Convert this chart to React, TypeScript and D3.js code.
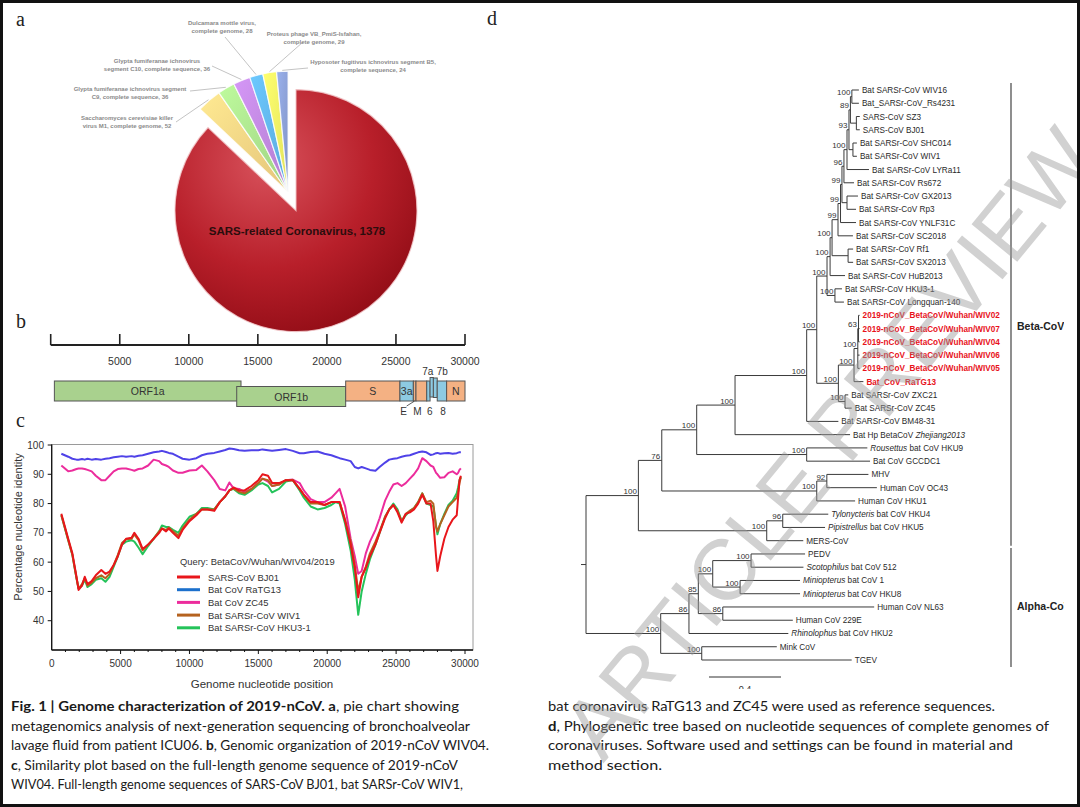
import React from "react";
import * as d3 from "d3";

const W = 1080;
const H = 807;

// ================= Panel a : metagenomics pie =================
const pieLabels = [
  "SARS-related Coronavirus, 1378",
  "Saccharomyces cerevisiae killer|virus M1, complete genome, 52",
  "Glypta fumiferanae ichnovirus segment|C9, complete sequence, 36",
  "Glypta fumiferanae ichnovirus|segment C10, complete sequence, 36",
  "Dulcamara mottle virus,|complete genome, 28",
  "Proteus phage VB_PmiS-Isfahan,|complete genome, 29",
  "Hyposoter fugitivus ichnovirus segment B5,|complete sequence, 24",
];
const pieValues = [1378, 52, 36, 36, 28, 29, 24];
const pieColors = ["#b71c26", "#e4c47a", "#9fd283", "#b27ecf", "#5aa8dc", "#e2e35c", "#8194c6"];

// ================= Panel b : genome organisation =================
const genomeTicks = [0, 5000, 10000, 15000, 20000, 25000, 30000];
const geneNames = ["ORF1a", "ORF1b", "S", "3a", "E", "M", "6", "7a", "7b", "8", "N"];
const geneStart = [266, 13470, 21360, 25290, 26260, 26450, 27230, 27470, 27710, 27990, 28670];
const geneEnd = [13780, 21360, 25290, 26260, 26450, 27230, 27470, 27710, 27990, 28670, 30000];
const geneKind = ["orf", "orf", "str", "acc", "str", "str", "acc", "acc", "acc", "acc", "str"];
const geneKindColor: Record<string, string> = { orf: "#a9d18e", str: "#f4b183", acc: "#8dcae2" };

// ================= Panel c : similarity plot =================
const simPositions = [
  700, 1200, 1500, 1800, 1950, 2200, 2400, 2600, 2900, 3200,
  3600, 3900, 4200, 4500, 4800, 5100, 5400, 5800, 6000, 6300,
  6600, 7000, 7400, 7800, 8000, 8300, 8500, 8800, 9200, 9500,
  10000, 10500, 10900, 11300, 11800, 12200, 12600, 12900, 13200, 13600,
  14000, 14500, 15000, 15300, 15700, 16000, 16500, 17000, 17500, 18000,
  18300, 18800, 19300, 19800, 20300, 20600, 20900, 21300, 21700, 22000,
  22250, 22500, 22800, 23100, 23500, 23800, 24200, 24500, 24800, 25100,
  25400, 25700, 26000, 26300, 26600, 26900, 27200, 27500, 27700, 27900,
  28000, 28200, 28500, 28800, 29100, 29400, 29500, 29600, 29700,
];
const simBJ01 = [
  76.5, 68, 63, 55, 50.5, 52, 55, 52.5, 53.5, 55.5,
  57.3, 56, 56.8, 59, 62, 66, 68, 68.3, 70, 68,
  64.5, 66, 68, 70, 71.5, 70.5, 71.5, 70, 68.2, 71,
  74, 76, 78, 78, 77.5, 80.5, 82.5, 84.5, 85.5, 84.5,
  84.5, 86, 88, 90, 89.5, 87, 87, 88, 88, 85,
  83, 80.5, 80.5, 79.5, 80.5, 80.5, 80.5, 74, 66, 58,
  48, 55, 58, 62, 66, 70, 75, 78, 79.5, 77,
  73.5, 76.5, 77, 78, 80, 83, 80, 80, 74, 62,
  57, 62, 68, 72, 74.5, 76, 82, 88, 89.5,
];
const simRaTG13 = [
  97, 96, 95.3, 95, 95, 95.2, 95, 95.3, 95, 95.2,
  95, 95.3, 95.5, 95.8, 96, 96.2, 96, 96.2, 96, 96.3,
  96.5, 97, 97.5, 97.8, 98, 97.6, 97.3, 97, 96, 95.3,
  95, 95.5, 96.5, 97, 97.3, 97.8, 98.3, 98.8, 98.6, 98.2,
  98, 98.2, 98.2, 98.5, 98.2, 98, 98.3, 98.6, 98, 97.2,
  97.2, 97.6, 97.8, 97, 96.5, 96, 95.5, 95, 94.5, 92.5,
  92, 92.5, 92, 91.5, 91.2, 92.5, 94, 95, 95.3, 95.5,
  96, 96.3, 96.5, 97, 97.5, 97.8, 97.5, 96.6, 96.8, 97.2,
  97.3, 97, 97.2, 97.3, 97, 97.2, 97.4, 97.5, 97.5,
];
const simZC45 = [
  93, 91, 91.3, 91.8, 92, 92, 91.8, 91.5, 91, 89.5,
  88, 88, 89.5, 91, 91.8, 92, 92, 91.5, 91.2, 91.8,
  92, 93, 95, 94.5, 93.5, 93, 92.5, 91.3, 90.5, 90.5,
  91.3, 91.5, 93, 91, 88, 85, 84.5, 87.2, 85.2, 85,
  84, 85, 87, 88.5, 87.5, 86, 86.5, 88, 88.2, 87,
  84.5, 81.5, 80.5, 80.5, 82, 83.5, 85, 79, 68, 62,
  56, 57, 63, 67, 71, 75, 81, 84, 86.5, 87,
  86, 87, 88.5, 90, 92, 95.5, 94.5, 93, 92.5, 90.5,
  90, 88.8, 89, 90.5, 91, 90, 90.5, 91.5, 92,
];
const simWIV1 = [
  76, 67.5, 62.5, 54.5, 51, 52.5, 54.5, 52, 53, 54.5,
  55.5, 54.5, 56, 59, 62.5, 66.5, 67.8, 68, 69.5, 67.5,
  64, 66, 68, 70.5, 71.5, 71, 71.8, 70.5, 69, 71.5,
  74.5, 76.5, 78, 78, 78, 80.5, 82.5, 84.5, 85.2, 84,
  83.5, 85, 87, 88.5, 88, 86, 86.5, 88, 88, 85,
  83, 80, 80, 79.5, 80.5, 80.5, 80.5, 74.5, 67, 59,
  50, 55, 58.5, 63, 67, 70.5, 75.5, 78, 79.5, 77.5,
  74, 76.5, 77.5, 78.5, 80.5, 83.5, 80.5, 81, 80, 72,
  70.5, 73, 76, 79, 80.5, 82, 84, 87, 89,
];
const simHKU3 = [
  76, 67.5, 62.5, 54.5, 51, 52, 54, 51.5, 52.5, 54,
  54.5, 53.3, 55, 58.5, 62, 66, 67, 67.5, 67, 65,
  62.7, 65.5, 68, 70.5, 72.5, 72, 72, 71, 70, 72.5,
  75.5, 76.5, 78.5, 78.5, 78, 80.5, 82.5, 84.5, 85, 83.5,
  83, 84.5, 86.5, 87, 86, 83.8, 85, 87.5, 88, 84.5,
  82, 79, 78, 78.5, 79.5, 80.5, 80, 73, 64, 54,
  42, 50, 56, 61, 66, 70, 75.5, 78, 80, 78,
  74, 76, 77.5, 78.5, 80.5, 83.5, 80, 79.5, 79, 72.5,
  69.5, 73, 76.5, 79.5, 81, 83.5, 85.5, 88, 89,
];
const simNames = ["SARS-CoV BJ01", "Bat CoV RaTG13", "Bat CoV ZC45", "Bat SARSr-CoV WIV1", "Bat SARSr-CoV HKU3-1"];
const simLineColors = ["#e8161b", "#4f42e8", "#ec2c9c", "#b5621f", "#24c35a"];
const simLegendColors = ["#e8161b", "#1c70cc", "#ec2c9c", "#b5621f", "#24c35a"];
const simDrawOrder = [1, 2, 4, 3, 0];
const simYTicks = [40, 50, 60, 70, 80, 90, 100];
const simXTicks = [0, 5000, 10000, 15000, 20000, 25000, 30000];
const simQuery = "Query: BetaCoV/Wuhan/WIV04/2019";

// ================= Panel d : phylogenetic tree =================
const sarsClade =
  "(((((((((((t0:0.039,t1:0.039)100:0.008,(t2:0.019,t3:0.019):0.033)89:0.008,(t4:0.022,t5:0.022):0.022)93:0.011,t6:0.122)100:0.017,t7:0.056)96:0.011,(t8:0.061,t9:0.050):0.028)99:0.008,t10:0.086)99:0.014,t11:0.083)99:0.033,(t12:0.028,t13:0.028):0.089)100:0.011,t14:0.083)100:0.017,(t15:0.039,t16:0.050)100:0.044)100";
const ncovClade =
  "((((t17:0.006,t18:0.006,t19:0.006)63:0.004,t20:0.010,t21:0.010)100:0.021,t22:0.052)100:0.087,(t23:0.018,t24:0.037)100:0.037)100";
const betaClade = `((((((${sarsClade}:0.057,${ncovClade}:0.120)100:0.056,t25:0.176)100:0.398,t26:0.639)100:0.213,(t27:0.337,t28:0.352)100:0.611)100:0.194,((t29:0.231,t30:0.278)92:0.056,t31:0.213)100:0.861)76:0.130,((t32:0.253,t33:0.235)96:0.089,t34:0.203)100:0.713)100`;
const alphaClade =
  "(((((t35:0.300,t36:0.291)100:0.213,(t37:0.333,t38:0.333)100:0.152)100:0.080,(t39:0.841,t40:0.389)86:0.136)85:0.052,t41:0.552)86:0.157,(t42:0.417,t43:0.833)100:0.228)100";
const treeNewick = `(${betaClade}:0.291,${alphaClade}:0.415);`;

const tipNames = [
  "Bat SARSr-CoV WIV16", "Bat_SARSr-CoV_Rs4231", "SARS-CoV SZ3", "SARS-CoV BJ01",
  "Bat SARSr-CoV SHC014", "Bat SARSr-CoV WIV1", "Bat SARSr-CoV LYRa11", "Bat SARSr-CoV Rs672",
  "Bat SARSr-CoV GX2013", "Bat SARSr-CoV Rp3", "Bat SARSr-CoV YNLF31C", "Bat SARSr-CoV SC2018",
  "Bat SARSr-CoV Rf1", "Bat SARSr-CoV SX2013", "Bat SARSr-CoV HuB2013", "Bat SARSr-CoV HKU3-1",
  "Bat SARSr-CoV Longquan-140", "2019-nCoV_BetaCoV/Wuhan/WIV02", "2019-nCoV_BetaCoV/Wuhan/WIV07",
  "2019-nCoV_BetaCoV/Wuhan/WIV04", "2019-nCoV_BetaCoV/Wuhan/WIV06", "2019-nCoV_BetaCoV/Wuhan/WIV05",
  "Bat_CoV_RaTG13", "Bat SARSr-CoV ZXC21", "Bat SARSr-CoV ZC45", "Bat SARSr-CoV BM48-31",
  "Bat Hp BetaCoV Zhejiang2013", "Rousettus bat CoV HKU9", "Bat CoV GCCDC1", "MHV",
  "Human CoV OC43", "Human CoV HKU1", "Tylonycteris bat CoV HKU4", "Pipistrellus bat CoV HKU5",
  "MERS-CoV", "PEDV", "Scotophilus bat CoV 512", "Miniopterus bat CoV 1",
  "Miniopterus bat CoV HKU8", "Human CoV NL63", "Human CoV 229E", "Rhinolophus bat CoV HKU2",
  "Mink CoV", "TGEV",
];
const tipItalicWords = ["Zhejiang2013", "Rousettus", "Tylonycteris", "Pipistrellus", "Scotophilus", "Miniopterus", "Rhinolophus"];
const tipHighlighted = [17, 18, 19, 20, 21, 22];
const cladeNames = ["Beta-CoV", "Alpha-CoV"];
const cladeFirstTip = [0, 35];
const cladeLastTip = [34, 43];
const scaleBarValue = 0.4;

// ================= Caption =================
const captionLeft = [
  "**Fig. 1 | Genome characterization of 2019-nCoV. a**, pie chart showing",
  "metagenomics analysis of next-generation sequencing of bronchoalveolar",
  "lavage fluid from patient ICU06. **b**, Genomic organization of 2019-nCoV WIV04.",
  "**c**, Similarity plot based on the full-length genome sequence of 2019-nCoV",
  "WIV04. Full-length genome sequences of SARS-CoV BJ01, bat SARSr-CoV WIV1,",
];
const captionRight = [
  "bat coronavirus RaTG13 and ZC45 were used as reference sequences.",
  "**d**, Phylogenetic tree based on nucleotide sequences of complete genomes of",
  "coronaviruses. Software used and settings can be found in material and",
  "method section.",
];
const watermark = "ARTICLE PREVIEW";

// ---------------- helpers ----------------
type NNode = { name: string; length: number; children: NNode[] };
function parseNewick(s: string): NNode {
  let i = 0;
  function node(): NNode {
    const n: NNode = { name: "", length: 0, children: [] };
    if (s[i] === "(") {
      i++;
      n.children.push(node());
      while (s[i] === ",") {
        i++;
        n.children.push(node());
      }
      i++;
    }
    let name = "";
    while (i < s.length && !",():;".includes(s[i])) name += s[i++];
    n.name = name;
    if (s[i] === ":") {
      i++;
      let len = "";
      while (i < s.length && !",();".includes(s[i])) len += s[i++];
      n.length = parseFloat(len);
    }
    return n;
  }
  return node();
}

function rich(s: string) {
  const parts = s.split("**");
  return parts.map((p, i) => (
    <tspan key={i} fontWeight={i % 2 === 1 ? 700 : 400}>
      {p}
    </tspan>
  ));
}

const SANS = "'Liberation Sans', Arial, Helvetica, sans-serif";

function PiePanel() {
  const cx = 294, cy = 206, R = 121;
  const arcs = d3.pie<number>().sort(null).value((d) => d)(pieValues);
  const arc = d3.arc<d3.PieArcDatum<number>>().innerRadius(0).outerRadius(R);
  const rim = d3.arc<d3.PieArcDatum<number>>().innerRadius(R + 1).outerRadius(R + 1);
  const groupMid = (arcs[1].startAngle + arcs[arcs.length - 1].endAngle) / 2;
  const off = (i: number) => {
    const a = i === 0 ? (arcs[0].startAngle + arcs[0].endAngle) / 2 : groupMid;
    const d = i === 0 ? 5 : 15;
    return [Math.sin(a) * d, -Math.cos(a) * d];
  };
  const labelPos = [null, [127, 120], [130, 91], [157, 63], [222, 25], [314, 36], [373, 64]];
  const lineFrom = [null, [176, 122], [190, 91], [212, 66], [225, 37], [303, 42], [308, 68]];
  return (
    <g>
      <defs>
        <radialGradient id="redG" cx="0.38" cy="0.3" r="0.8">
          <stop offset="0" stopColor="#d8525c" />
          <stop offset="0.55" stopColor="#b81f2a" />
          <stop offset="1" stopColor="#8c0a13" />
        </radialGradient>
        {pieColors.map((c, i) => (
          <linearGradient key={i} id={`pg${i}`} x1="0" y1="0" x2="1" y2="1">
            <stop offset="0" stopColor={d3.color(c)!.brighter(0.5).toString()} />
            <stop offset="1" stopColor={c} />
          </linearGradient>
        ))}
      </defs>
      {arcs.map((a, i) => {
        const [dx, dy] = off(i);
        return (
          <path
            key={i}
            d={arc(a) || ""}
            transform={`translate(${cx + dx},${cy + dy})`}
            fill={i === 0 ? "url(#redG)" : `url(#pg${i})`}
            stroke={i === 0 ? "#f2c9cc" : "#ffffff"}
            strokeOpacity={0.8}
            strokeWidth={1.2}
          />
        );
      })}
      <text x={297} y={235} textAnchor="middle" fontFamily={SANS} fontWeight={700} fontSize={11.5} fill="#2b0d0d">
        {pieLabels[0]}
      </text>
      {arcs.map((a, i) => {
        if (i === 0) return null;
        const [dx, dy] = off(i);
        const [px, py] = rim.centroid(a);
        const lp = labelPos[i]!;
        const lf = lineFrom[i]!;
        const lines = pieLabels[i].split("|");
        return (
          <g key={i}>
            <line x1={lf[0]} y1={lf[1]} x2={cx + dx + px} y2={cy + dy + py} stroke="#c4c4c4" strokeWidth={1} />
            {lines.map((t, k) => (
              <text key={k} x={lp[0]} y={lp[1] + k * 8} textAnchor="middle" fontFamily={SANS} fontWeight={700} fontSize={6} fill="#8a8a8a">
                {t}
              </text>
            ))}
          </g>
        );
      })}
    </g>
  );
}

function GenomePanel() {
  const x = d3.scaleLinear().domain([0, 30000]).range([50.7, 465]);
  const yOff: Record<string, number> = { ORF1b: 5.5, "7a": -3.5, "7b": -3 };
  const inside = ["ORF1a", "ORF1b", "S", "3a", "N"];
  const aboveShift: Record<string, number> = { "7a": -4, "7b": 7 };
  const below: Record<string, number> = { E: -11, M: -4, "6": 1.5, "8": 1 };
  return (
    <g fontFamily={SANS}>
      <line x1={x(0)} x2={x(30000)} y1={345} y2={345} stroke="#222" strokeWidth={2} />
      {genomeTicks.map((t) => (
        <g key={t}>
          <line x1={x(t)} x2={x(t)} y1={334} y2={345} stroke="#222" strokeWidth={1.6} />
          {t > 0 && (
            <text x={x(t)} y={365} textAnchor="middle" fontSize={10.5} fill="#333">
              {t}
            </text>
          )}
        </g>
      ))}
      {geneNames.map((g, i) => {
        const y0 = 381 + (yOff[g] || 0);
        const x0 = x(geneStart[i]);
        const x1 = x(geneEnd[i]);
        return (
          <rect key={g} x={x0} y={y0} width={x1 - x0} height={g === "7a" || g === "7b" ? 19.5 : 20} fill={geneKindColor[geneKind[i]]} stroke="#555" strokeWidth={1} />
        );
      })}
      {geneNames.map((g, i) => {
        const xc = (x(geneStart[i]) + x(geneEnd[i])) / 2;
        const y0 = 381 + (yOff[g] || 0);
        if (inside.includes(g))
          return (
            <text key={g} x={xc} y={y0 + 14} textAnchor="middle" fontSize={10.5} fill="#333">
              {g}
            </text>
          );
        if (g in aboveShift)
          return (
            <text key={g} x={xc + aboveShift[g]} y={375} textAnchor="middle" fontSize={10} fill="#333">
              {g}
            </text>
          );
        const lx = xc + below[g];
        return (
          <g key={g}>
            {g === "E" && <line x1={lx + 3} y1={406} x2={xc} y2={401} stroke="#333" strokeWidth={0.8} />}
            <text x={lx} y={415} textAnchor="middle" fontSize={10} fill="#333">
              {g}
            </text>
          </g>
        );
      })}
    </g>
  );
}

function SimPanel() {
  const x = d3.scaleLinear().domain([0, 30000]).range([51.7, 465]);
  const y = d3.scaleLinear().domain([30, 100]).range([650, 445]);
  const right = 473;
  const top = 444.5;
  const series = [simBJ01, simRaTG13, simZC45, simWIV1, simHKU3];
  const line = d3
    .line<number>()
    .x((_, i) => x(simPositions[i]))
    .y((d) => y(d));
  const minor = d3.range(1000, 30001, 1000);
  return (
    <g fontFamily={SANS}>
      <rect x={x(0)} y={top} width={right - x(0)} height={y(30) - top} fill="none" stroke="#9a9a9a" strokeWidth={1} />
      {simDrawOrder.map((k) => (
        <path key={k} d={line(series[k]) || ""} fill="none" stroke={simLineColors[k]} strokeWidth={2} strokeLinejoin="round" />
      ))}
      <line x1={x(0)} x2={x(0)} y1={top} y2={y(30)} stroke="#111" strokeWidth={1.3} />
      <line x1={x(0)} x2={right} y1={y(30)} y2={y(30)} stroke="#111" strokeWidth={1.3} />
      {simYTicks.map((t) => (
        <g key={t}>
          <line x1={x(0) - 4} x2={x(0)} y1={y(t)} y2={y(t)} stroke="#111" />
          <text x={44} y={y(t) + 3.6} textAnchor="end" fontSize={10} fill="#333">
            {t}
          </text>
        </g>
      ))}
      {minor.map((t) => (
        <line key={t} x1={x(t)} x2={x(t)} y1={y(30)} y2={y(30) + (t % 5000 === 0 ? 4 : 2)} stroke="#111" />
      ))}
      {simXTicks.map((t) => (
        <text key={t} x={x(t)} y={667} textAnchor="middle" fontSize={10} fill="#333">
          {t}
        </text>
      ))}
      <text x={262} y={688} textAnchor="middle" fontSize={11.5} fill="#333">
        Genome nucleotide position
      </text>
      <text transform="translate(22,527) rotate(-90)" textAnchor="middle" fontSize={11} fill="#333">
        Percentage nucleotide identity
      </text>
      <text x={180} y={565} fontSize={9.4} fill="#333">
        {simQuery}
      </text>
      {simNames.map((n, i) => (
        <g key={n}>
          <line x1={177} x2={200} y1={577 + i * 12.7} y2={577 + i * 12.7} stroke={simLegendColors[i]} strokeWidth={3} />
          <text x={208} y={577 + i * 12.7 + 3.5} fontSize={9.4} fill="#333">
            {n}
          </text>
        </g>
      ))}
    </g>
  );
}

function TreePanel() {
  const root = d3.hierarchy(parseNewick(treeNewick), (d) => (d.children.length ? d.children : null)) as any;
  root.eachBefore((n: any) => {
    n.bl = n.parent ? n.parent.bl + n.data.length : 0;
  });
  const leaves = root.leaves();
  const yT = d3.scaleLinear().domain([0, leaves.length - 1]).range([90, 660]);
  leaves.forEach((l: any, i: number) => (l.yy = yT(i)));
  root.eachAfter((n: any) => {
    if (n.children) n.yy = (n.children[0].yy + n.children[n.children.length - 1].yy) / 2;
  });
  const xT = d3.scaleLinear().domain([0, scaleBarValue]).range([586, 658]);
  const nodes = root.descendants();
  const segs: any[] = [];
  nodes.forEach((n: any, k: number) => {
    if (n.children) {
      const a = n.children[0].yy, b = n.children[n.children.length - 1].yy;
      segs.push(<line key={`v${k}`} x1={xT(n.bl)} x2={xT(n.bl)} y1={a} y2={b} />);
      n.children.forEach((c: any, j: number) => {
        segs.push(<line key={`h${k}_${j}`} x1={xT(n.bl)} x2={xT(c.bl)} y1={c.yy} y2={c.yy} />);
      });
    }
  });
  const tipIndex = (n: any) => parseInt(n.data.name.slice(1), 10);
  const barX = 1011;
  const cladeLabelY = [330, 610];
  return (
    <g fontFamily={SANS}>
      <g stroke="#3a3a3a" strokeWidth={1}>
        <line x1={xT(0) - 5} x2={xT(0)} y1={root.yy} y2={root.yy} />
        {segs}
      </g>
      {nodes
        .filter((n: any) => n.children && n.data.name)
        .map((n: any, k: number) => (
          <text key={k} x={xT(n.bl) - 1.5} y={n.yy - 1.5} textAnchor="end" fontSize={8} fill="#333">
            {n.data.name}
          </text>
        ))}
      {leaves.map((l: any) => {
        const idx = tipIndex(l);
        const name = tipNames[idx];
        const hi = tipHighlighted.includes(idx);
        const it = tipItalicWords.find((w) => name.includes(w));
        let content: any = name;
        if (it) {
          const p = name.indexOf(it);
          content = [
            <tspan key="a">{name.slice(0, p)}</tspan>,
            <tspan key="b" fontStyle="italic">
              {it}
            </tspan>,
            <tspan key="c">{name.slice(p + it.length)}</tspan>,
          ];
        }
        return (
          <text key={idx} x={xT(l.bl) + 3} y={l.yy + 3} fontSize={8.2} fontWeight={hi ? 700 : 400} fill={hi ? "#e8121b" : "#2a2a2a"}>
            {content}
          </text>
        );
      })}
      {cladeNames.map((c, i) => {
        const y0 = yT(cladeFirstTip[i]) - (i === 0 ? 7 : 6);
        const y1 = yT(cladeLastTip[i]) + (i === 0 ? 5 : 7);
        return (
          <g key={c}>
            <line x1={barX} x2={barX} y1={y0} y2={y1} stroke="#444" strokeWidth={1.2} />
            <text x={barX + 6} y={cladeLabelY[i]} fontSize={10.5} fontWeight={700} fill="#222" clipPath="url(#rightClip)">
              {c}
            </text>
          </g>
        );
      })}
      <line x1={709} x2={709 + xT(scaleBarValue) - xT(0)} y1={677} y2={677} stroke="#333" strokeWidth={1.2} />
      <text x={709 + (xT(scaleBarValue) - xT(0)) / 2} y={692} textAnchor="middle" fontSize={9} fill="#333">
        {scaleBarValue}
      </text>
    </g>
  );
}

export default function App() {
  const capFont = "Lato, 'Open Sans', sans-serif";
  const leftW = [448, 459, 478, 447, 452];
  const rightW = [447, 501, 465, 114];
  const capY = [711, 730.5, 750, 769.5, 789];
  return (
    <svg width={W} height={H} viewBox={`0 0 ${W} ${H}`} style={{ position: "absolute", left: 0, top: 0, background: "#fff" }}>
      <defs>
        <clipPath id="rightClip">
          <rect x={0} y={0} width={1064} height={H} />
        </clipPath>
      </defs>
      <rect x={0} y={0} width={W} height={H} fill="#fff" />
      <g fontFamily="'Liberation Serif', 'Times New Roman', serif" fontSize={20} fill="#222">
        <text x={16} y={26}>a</text>
        <text x={16} y={328}>b</text>
        <text x={16} y={427}>c</text>
        <text x={487} y={25}>d</text>
      </g>
      <PiePanel />
      <GenomePanel />
      <SimPanel />
      <TreePanel />
      <rect x={3} y={689} width={W - 6} height={H - 692} fill="#fff" />
      <g fontFamily={capFont} fontSize={14} fill="#1a1a1a">
        {captionLeft.map((l, i) => (
          <text key={i} x={11} y={capY[i]} textLength={leftW[i]} lengthAdjust="spacingAndGlyphs">
            {rich(l)}
          </text>
        ))}
        {captionRight.map((l, i) => (
          <text key={i} x={548} y={capY[i]} textLength={rightW[i]} lengthAdjust="spacingAndGlyphs">
            {rich(l)}
          </text>
        ))}
      </g>
      <text
        transform="translate(852,462) rotate(-50.5)"
        textAnchor="middle"
        fontFamily={SANS}
        fontSize={86}
        fill="#9a9a9a"
        opacity={0.45}
      >
        {watermark}
      </text>
      <rect x={1.5} y={1.5} width={W - 3} height={H - 3} fill="none" stroke="#111" strokeWidth={3} />
    </svg>
  );
}
